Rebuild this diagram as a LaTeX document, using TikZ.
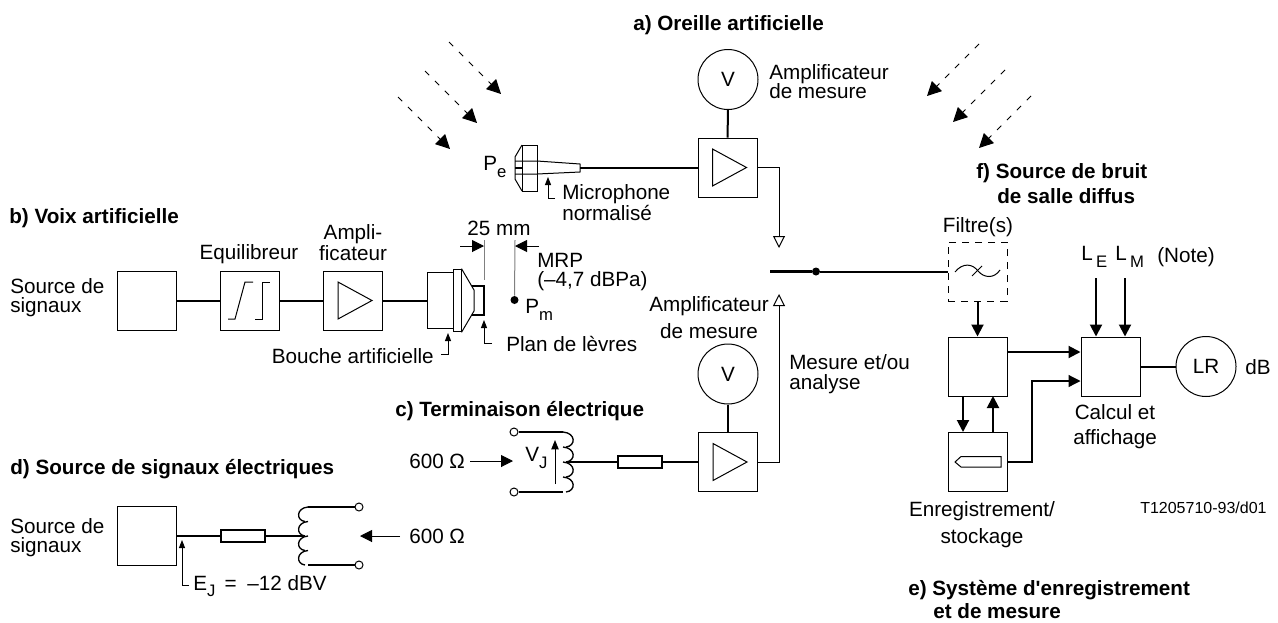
\documentclass[tikz,border=0pt]{standalone}
\usepackage{fontspec}
\setmainfont{Liberation Sans}
\usetikzlibrary{arrows.meta}
\tikzset{
  thinl/.style={line width=0.75pt},
  wire/.style={line width=1.5pt},
  arr/.style={line width=1.5pt,-{Triangle[length=9pt,width=9pt]}},
  thinarr/.style={line width=0.75pt,-{Triangle[length=9pt,width=9pt]}},
  fin/.style={line width=0.75pt,-{Triangle[length=6pt,width=4.5pt]}},
  openarr/.style={line width=0.75pt,-{Triangle[open,length=9pt,width=9pt]}},
  dasharr/.style={line width=0.75pt,dash pattern=on 4.5pt off 6pt,-{Triangle[length=10.5pt,width=10.5pt]}},
  blockbox/.style={draw,line width=0.75pt,minimum size=44.25pt,inner sep=0pt},
  meter/.style={draw,line width=0.75pt,circle,minimum size=45pt,inner sep=0pt,font=\fontsize{15.5}{18}\selectfont},
  res/.style={draw,line width=1.5pt,minimum width=33pt,minimum height=8.5pt,inner sep=0pt},
  term/.style={draw,line width=0.75pt,circle,minimum size=6pt,inner sep=0pt},
  dotnode/.style={fill,circle,minimum size=6pt,inner sep=0pt},
  lbl/.style={font=\fontsize{15.5}{18}\selectfont,inner sep=0pt,anchor=west},
  twolines/.style={font=\fontsize{15.5}{14.6}\selectfont,inner sep=0pt,anchor=west,align=left},
  mid/.style={font=\fontsize{15.5}{18}\selectfont,inner sep=0pt},
  ttl/.style={font=\fontsize{15.5}{18}\selectfont\bfseries,inner sep=0pt,anchor=west},
}
\newcommand{\sub}[1]{\raisebox{-5pt}{\fontsize{12.5}{12.5}\selectfont #1}}
\begin{document}
\begin{tikzpicture}[x=0.75pt,y=-0.75pt]
  \useasboundingbox (0,0) rectangle (1278,622);
  % titles
  \node[ttl] (ta) at (633,25) {a) Oreille artificielle};
  \node[ttl] (tb) at (9,218) {b) Voix artificielle};
  \node[ttl] (tc) at (395,411) {c) Terminaison électrique};
  \node[ttl] (td) at (10,469) {d) Source de signaux électriques};
  \node[ttl] (te) at (908,590) {e) Système d\textquotesingle enregistrement};
  \node[ttl] (te2) at (933,611) {et de mesure};
  \node[ttl] (tf) at (976,173) {f) Source de bruit};
  \node[ttl] (tf2) at (997,196) {de salle diffus};
  % blocks
  \node[blockbox] (srcb) at (146.5,300.5) {};
  \node[blockbox] (eqb) at (249.5,300.5) {};
  \node[blockbox] (ampb) at (353,300.5) {};
  \node[blockbox] (ampa) at (727.5,167.5) {};
  \node[blockbox] (ampc) at (728,462) {};
  \node[blockbox] (srcd) at (147,536) {};
  \node[blockbox] (meas) at (977.5,366.5) {};
  \node[blockbox] (calc) at (1110.5,366.5) {};
  \node[blockbox] (rec) at (977.5,462) {};
  \node[blockbox,dash pattern=on 5.25pt off 4.5pt] (filt) at (977.5,271.5) {};
  \node[meter] (va) at (728,79.5) {V};
  \node[meter] (vc) at (728,374) {V};
  \node[meter] (lr) at (1206,366.5) {LR};
  \foreach \amp in {ampb,ampa,ampc}
    \draw[thinl] ([shift={(-15,-18.5)}]\amp.center) -- ([shift={(19,0)}]\amp.center) -- ([shift={(-15,18.5)}]\amp.center) -- cycle;
  % chain b
  \draw[thinl] (228,319) -- (235,319) -- (245,282) -- (253,282);
  \draw[thinl] (255,319) -- (262,319) -- (262,282) -- (270,282);
  \draw[wire] (srcb) -- (eqb);
  \draw[wire] (eqb) -- (ampb);
  \node[draw,line width=0.75pt,minimum width=19.5pt,minimum height=42pt,inner sep=0pt] (mouth) at (440,300.5) {};
  \node[draw,line width=0.75pt,minimum width=6pt,minimum height=47pt,inner sep=0pt] (flange) at (457,300.5) {};
  \draw[wire] (ampb) -- (mouth);
  \draw[thinl] (flange.north east) -- (474,290) -- (474,311) -- (flange.south east);
  \draw[wire] (472,286) -- (484,286) -- (484,315) -- (472,315);
  \coordinate (dl) at (484,246);
  \coordinate (dr) at (515,246);
  \coordinate (dll) at (460,246);
  \coordinate (drr) at (539,246);
  \node[dotnode] (pm) at (514.5,300) {};
  \draw[thinl,gray] (484,240) -- (484,280);
  \draw[thinl,gray] (515,240) -- (pm);
  \draw[thinarr] (dll) -- (dl);
  \draw[thinarr] (drr) -- (dr);
  \node[mid] (d25) at (499,228) {25 mm};
  \node[lbl] (mrp) at (537,260) {MRP};
  \node[lbl] (mrpv) at (537,281) {(–4,7 dBPa)};
  \node[lbl] (pml) at (525,310) {P\sub{m}};
  \node[lbl] (plan) at (506,344) {Plan de lèvres};
  \node[lbl,anchor=east] (bouche) at (434,356) {Bouche artificielle};
  \draw[fin] (492,343) -- (484,343) -- (484,320);
  \draw[fin] (441,354) -- (448,354) -- (448,333);
  \node[mid] (leq) at (249,254) {Equilibreur};
  \node[mid,align=center,font=\fontsize{15.5}{14.2}\selectfont] (lam) at (353,242.5) {Ampli-\\ficateur};
  \node[twolines] (lsb) at (10,297.5) {Source de\\signaux};
  % microphone
  \draw[thinl] (522,145) rectangle (537,191);
  \draw[thinl] (522,145) -- (515,157) -- (515,179) -- (522,191);
  \draw[thinl] (515,161) -- (537,161) -- (580,164) -- (580,172) -- (537,174) -- (515,174);
  \draw[wire] (515,167.5) -- (522,167.5);
  \coordinate (mic) at (580,167.5);
  \draw[wire] (mic) -- (ampa);
  \draw[fin] (555,198) -- (548,198) -- (548,177);
  \node[lbl] (pel) at (483,167) {P\sub{e}};
  \node[twolines] (lmic) at (562,203) {Microphone\\normalisé};
  \draw[wire] (va) -- (ampa);
  \node[twolines] (lama) at (769,81.5) {Amplificateur\\de mesure};
  % incident sound
  \foreach \x/\y in {398/97,425/71,449/42}
    \draw[dasharr] (\x,\y) -- (\x+52,\y+52);
  \foreach \x/\y in {979/44,1005/70,1031/96}
    \draw[dasharr] (\x,\y) -- (\x-52,\y+52);
  % switch
  \coordinate (swl) at (770,271.5);
  \node[dotnode] (sw) at (816,271.5) {};
  \coordinate (tipa) at (779,248);
  \coordinate (tipc) at (779,294);
  \draw[line width=2.2pt] (swl) -- (sw);
  \draw[wire] (sw) -- (filt);
  \draw[openarr] (ampa) -- (779,167.5) -- (tipa);
  \draw[openarr] (ampc) -- (779,462) -- (tipc);
  \node[twolines,font=\fontsize{15.5}{15}\selectfont] (lmes) at (789,374) {Mesure et/ou\\analyse};
  \node[mid] (lamc) at (709,306) {Amplificateur};
  \node[mid] (lamc2) at (709,331) {de mesure};
  \draw[wire] (vc) -- (ampc);
  % termination c
  \node[term] (tc1) at (514,432) {};
  \node[term] (tc2) at (514,492) {};
  \coordinate (cc1) at (563,432);
  \coordinate (cc2) at (563,492);
  \draw[wire] (tc1) -- (cc1);
  \draw[wire] (tc2) -- (cc2);
  \foreach \y in {432,447,462,477}
    \draw[line width=1pt] (563,\y) .. controls (576,\y+1) and (576,\y+14) .. (566,\y+15);
  \node[res] (rc) at (639.5,462) {};
  \coordinate (ccm) at (566,462);
  \draw[wire] (ccm) -- (rc);
  \draw[wire] (rc) -- (ampc);
  \node[lbl] (l600c) at (409,461) {600 Ω};
  \coordinate (ac) at (470,461);
  \coordinate (bc) at (513,461);
  \draw[thinarr] (ac) -- (bc);
  \node[lbl] (lvj) at (525,458) {V\sub{J}};
  \draw[line width=0.75pt,-{Triangle[length=7pt,width=5.5pt]}] (555,484) -- (555,440);
  % source d
  \node[res] (rd) at (243,536) {};
  \coordinate (cdm) at (304,536);
  \node[term] (td1) at (359,507) {};
  \node[term] (td2) at (359,565) {};
  \coordinate (cd1) at (308,507);
  \coordinate (cd2) at (308,565);
  \draw[wire] (srcd) -- (rd);
  \draw[wire] (rd) -- (cdm);
  \draw[wire] (cd1) -- (td1);
  \draw[wire] (cd2) -- (td2);
  \foreach \y in {507,521.5,536,550.5}
    \draw[line width=1pt] (308,\y) .. controls (296,\y+1) and (296,\y+13.5) .. (305,\y+14.5);
  \node[lbl] (l600d) at (409,536) {600 Ω};
  \coordinate (ad) at (400,536);
  \coordinate (bd) at (360,536);
  \draw[thinarr] (ad) -- (bd);
  \node[twolines] (lsd) at (10,537.5) {Source de\\signaux};
  \draw[fin] (189,585) -- (182,585) -- (182,540);
  \node[lbl] (lej) at (193,586) {E\sub{J}\hspace{7pt}=\hspace{8pt}–12 dBV};
  % right part
  \draw[thinl] (955,272) .. controls (963,262) and (973,264) .. (978,271) .. controls (984,278) and (994,279) .. (1000,270);
  \draw[thinl] (972,276) -- (982,266);
  \node[mid] (lfil) at (978,227) {Filtre(s)};
  \draw[arr] (filt) -- (meas);
  \draw[arr] (meas.east |- 0,352) -- (calc.west |- 0,352);
  \draw[line width=0.9pt,-{Triangle[length=9pt,width=9pt]}] (rec) -- (1032,462) -- (1032,381) -- (calc.west |- 0,381);
  \draw[arr] (963,396) -- (963,432);
  \draw[arr] (993,432) -- (993,396);
  \draw[thinl] (955,462) -- (961,456.5) -- (1001,456.5) -- (1001,467) -- (961,467) -- cycle;
  \draw[wire] (calc) -- (lr);
  \coordinate (le) at (1096,278);
  \coordinate (lm) at (1125,278);
  \draw[arr] (le) -- (le |- calc.north);
  \draw[arr] (lm) -- (lm |- calc.north);
  \node[lbl] (lle) at (1081,257) {L\,\sub{E}};
  \node[lbl] (llm) at (1115,257) {L\,\sub{M}};
  \node[lbl] (lnote) at (1157,257) {(Note)};
  \node[lbl] (ldb) at (1245,367) {dB};
  \node[mid] (lcal) at (1115,412) {Calcul et};
  \node[mid] (lcal2) at (1115,439) {affichage};
  \node[mid] (lenr) at (982,511) {Enregistrement/};
  \node[mid] (lenr2) at (982,538) {stockage};
  \node[lbl,font=\fontsize{12}{14}\selectfont] (lref) at (1140,508) {T1205710-93/d01};
\end{tikzpicture}
\end{document}
